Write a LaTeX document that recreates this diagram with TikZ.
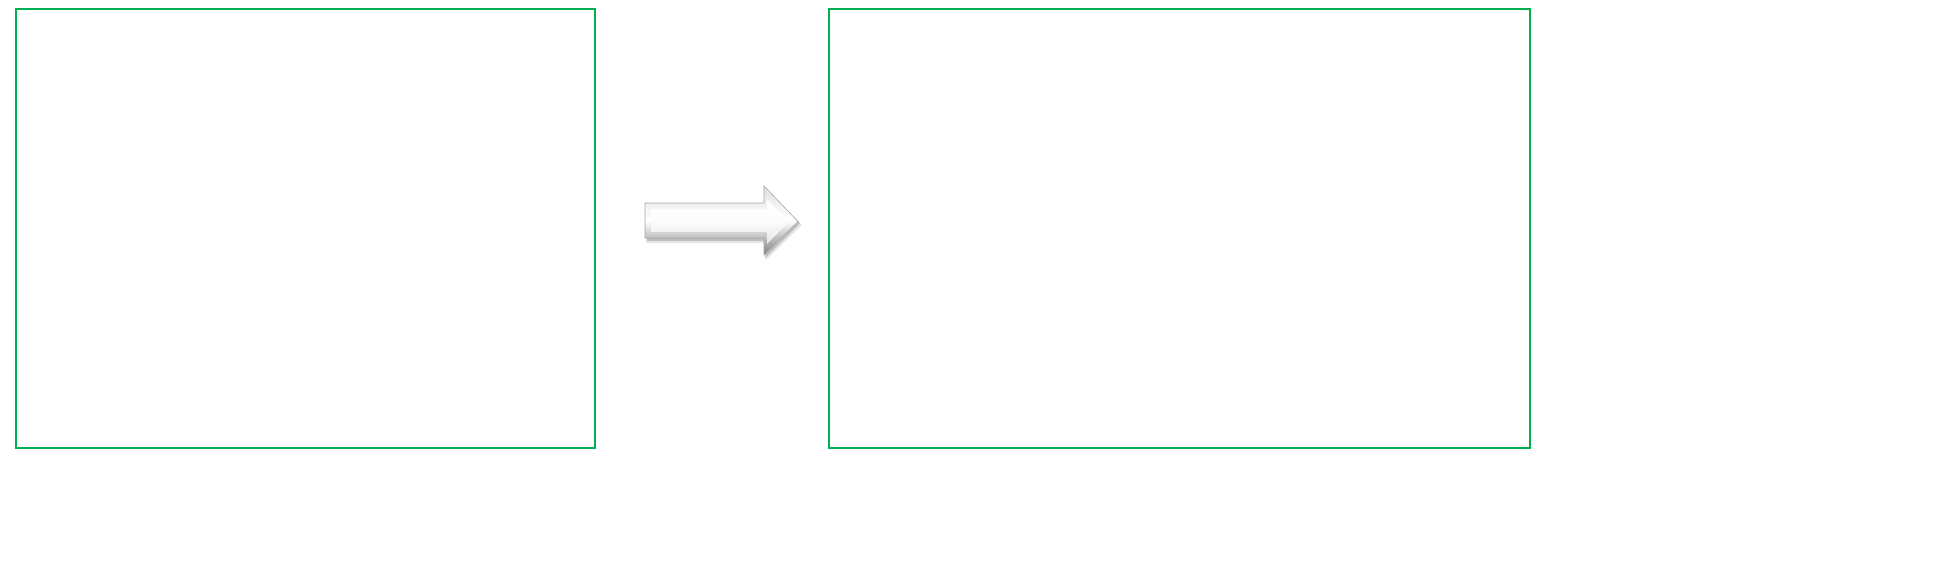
\documentclass[tikz,border=0pt]{standalone}
\usetikzlibrary{shadows,fadings}
\definecolor{boxgreen}{HTML}{00B050}
\tikzset{
  framebox/.style={draw=boxgreen, line width=1.1pt},
}
\begin{document}
\begin{tikzpicture}[x=0.5pt,y=-0.5pt]
\useasboundingbox (0,0) rectangle (1940,565);
% frames
\draw[framebox] (16,9) rectangle (595,448);
\draw[framebox] (829,9) rectangle (1530,448);
% arrow shadow (soft)
\fill[black!20, opacity=0.5] (646,206) -- (766,206) -- (766,189) -- (802,225) -- (766,260) -- (766,243) -- (646,243) -- cycle;
\fill[black!40, opacity=0.5] (647,205) -- (765,205) -- (765,188) -- (800,223.5) -- (765,258) -- (765,241) -- (647,241) -- cycle;
% arrow outer
\shade[top color=black!12, bottom color=black!50, middle color=white, draw=black!35, line width=0.3pt]
  (645,203) -- (764,203) -- (764,186) -- (798,221.5) -- (764,255) -- (764,238) -- (645,238) -- cycle;
% bevel inner
\shade[top color=white, bottom color=black!10, middle color=black!1]
  (651,209) -- (767,209) -- (767,199) -- (789,221.5) -- (767,244) -- (767,232) -- (651,232) -- cycle;
\end{tikzpicture}
\end{document}
